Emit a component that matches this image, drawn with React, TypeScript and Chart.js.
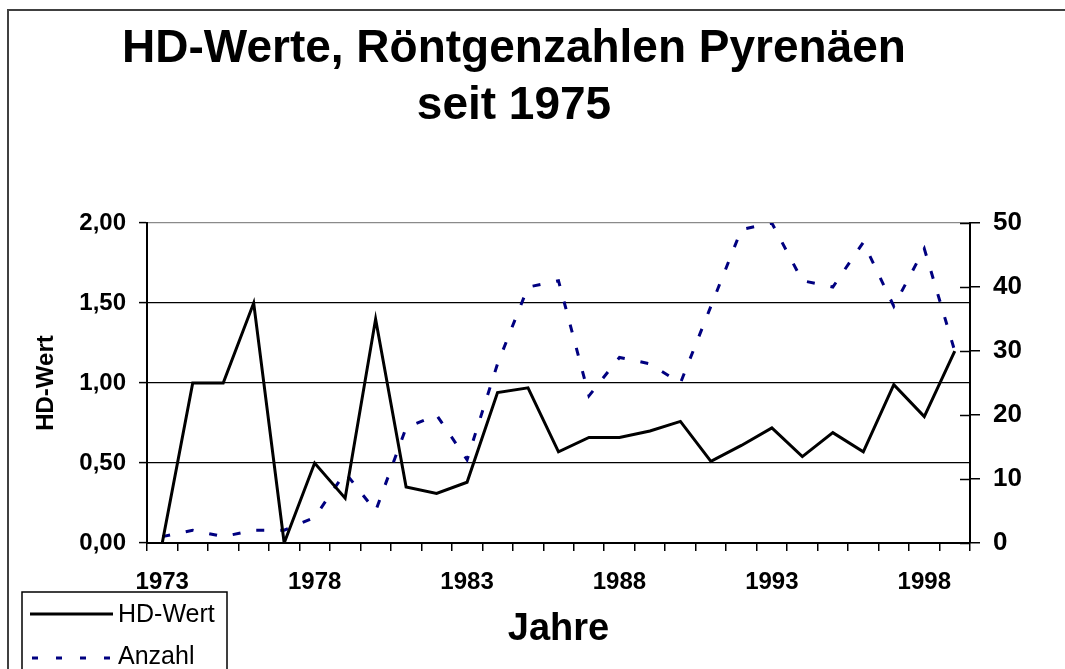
import { useEffect, useRef } from 'react';
import { Chart, registerables } from 'chart.js';

Chart.register(...registerables);

const FONT = '"Liberation Sans", Arial, Helvetica, sans-serif';

const titleLines = ['HD-Werte, Röntgenzahlen Pyrenäen', 'seit 1975'];
const years = [
  '1973', '1974', '1975', '1976', '1977', '1978', '1979', '1980', '1981',
  '1982', '1983', '1984', '1985', '1986', '1987', '1988', '1989', '1990',
  '1991', '1992', '1993', '1994', '1995', '1996', '1997', '1998', '1999',
];
const shownYears = ['1973', '1978', '1983', '1988', '1993', '1998'];
const hdWert = [
  0, 1.0, 1.0, 1.5, 0, 0.5, 0.28, 1.4, 0.35, 0.31, 0.38, 0.94, 0.97, 0.57,
  0.66, 0.66, 0.7, 0.76, 0.51, 0.61, 0.72, 0.54, 0.69, 0.57, 0.99, 0.79, 1.2,
];
const anzahl = [
  1, 2, 1, 2, 2, 4, 11, 5, 18, 20, 13, 28, 40, 41,
  23, 29, 28, 25, 37, 49, 50, 41, 40, 47, 37, 46, 30,
];
const leftTickLabels = ['0,00', '0,50', '1,00', '1,50', '2,00'];
const rightTickLabels = ['0', '10', '20', '30', '40', '50'];

const framePlugin = {
  id: 'excelFrame',
  beforeDraw(chart: any) {
    const { ctx, width, height } = chart;
    ctx.save();
    ctx.fillStyle = '#ffffff';
    ctx.fillRect(0, 0, width, height);
    ctx.strokeStyle = '#404040';
    ctx.lineWidth = 2;
    ctx.strokeRect(8, 10, width + 50, height + 50);
    ctx.restore();
  },
};

const innerTicksPlugin = {
  id: 'innerTicks',
  afterDatasetsDraw(chart: any) {
    const s = chart.scales.y2;
    const ctx = chart.ctx;
    ctx.save();
    ctx.strokeStyle = '#000';
    ctx.lineWidth = 1.5;
    s.ticks.forEach((t: any) => {
      const y = Math.round(s.getPixelForValue(t.value)) + 0.5;
      ctx.beginPath();
      ctx.moveTo(s.left - 10, y);
      ctx.lineTo(s.left, y);
      ctx.stroke();
    });
    ctx.restore();
  },
};

const boxLegendPlugin = {
  id: 'boxLegend',
  afterDraw(chart: any) {
    const ctx = chart.ctx;
    const x0 = 22;
    const y0 = 592;
    ctx.save();
    ctx.fillStyle = '#fff';
    ctx.fillRect(x0, y0, 205, 120);
    ctx.strokeStyle = '#000';
    ctx.lineWidth = 1.5;
    ctx.strokeRect(x0, y0, 205, 120);
    chart.data.datasets.forEach((ds: any, i: number) => {
      const y = 614 + i * 42;
      ctx.beginPath();
      ctx.strokeStyle = ds.borderColor;
      ctx.lineWidth = ds.borderWidth;
      ctx.setLineDash(ds.borderDash ? [6, 18] : []);
      ctx.lineDashOffset = ds.borderDash ? -2 : 0;
      ctx.moveTo(30, y + (i ? 2 : 0));
      ctx.lineTo(113, y + (i ? 2 : 0));
      ctx.stroke();
      ctx.setLineDash([]);
      ctx.fillStyle = '#000';
      ctx.font = `25px ${FONT}`;
      ctx.textBaseline = 'middle';
      ctx.textAlign = 'left';
      ctx.fillText(ds.label, 118, y + 1);
    });
    ctx.restore();
  },
};

export default function App() {
  const ref = useRef<HTMLCanvasElement | null>(null);

  useEffect(() => {
    if (!ref.current) return;
    Chart.defaults.font.family = FONT;
    const chart = new Chart(ref.current, {
      type: 'line',
      data: {
        labels: years,
        datasets: [
          {
            label: 'HD-Wert',
            data: hdWert,
            yAxisID: 'y',
            borderColor: '#000000',
            backgroundColor: '#000000',
            borderWidth: 3,
            pointRadius: 0,
            tension: 0,
            fill: false,
          },
          {
            label: 'Anzahl',
            data: anzahl,
            yAxisID: 'y2',
            borderColor: '#000080',
            backgroundColor: '#000080',
            borderWidth: 3,
            borderDash: [8, 16],
            pointRadius: 0,
            tension: 0,
            fill: false,
          },
        ],
      },
      options: {
        responsive: false,
        animation: false,
        layout: { padding: { left: 0, right: 37, top: 0, bottom: 0 } },
        plugins: {
          legend: { display: false },
          tooltip: { enabled: false },
          title: {
            display: true,
            text: titleLines,
            color: '#000',
            font: { size: 46, weight: 'bold', family: FONT, lineHeight: 1.24 },
            padding: { top: 21, bottom: 88 },
          },
        },
        scales: {
          x: {
            type: 'category',
            offset: true,
            grid: {
              offset: true,
              drawOnChartArea: false,
              tickLength: 8,
              color: '#000',
              lineWidth: 1.5,
            },
            border: { color: '#000', width: 2 },
            ticks: {
              autoSkip: false,
              maxRotation: 0,
              minRotation: 0,
              padding: 17,
              color: '#000',
              font: { size: 24, weight: 'bold' },
              callback: (_v: any, i: number) =>
                shownYears.includes(years[i]) ? years[i] : '',
            },
            title: {
              display: true,
              text: 'Jahre',
              color: '#000',
              font: { size: 38, weight: 'bold' },
              padding: { top: 0, bottom: 17 },
            },
            afterFit: (s: any) => {
              s.height = 126;
            },
          },
          y: {
            position: 'left',
            min: 0,
            max: 2,
            ticks: {
              stepSize: 0.5,
              padding: 13,
              color: '#000',
              font: { size: 24, weight: 'bold' },
              callback: (_v: any, i: number) => leftTickLabels[i],
            },
            grid: {
              color: (c: any) => (c.tick && c.tick.value === 2 ? '#8a8a8a' : '#000'),
              tickColor: '#000',
              tickLength: 8,
              lineWidth: 1.2,
              tickWidth: 1.5,
            },
            border: { color: '#000', width: 2 },
            title: {
              display: true,
              text: 'HD-Wert',
              color: '#000',
              font: { size: 24, weight: 'bold' },
              padding: { top: 32, bottom: 0 },
            },
            afterFit: (s: any) => {
              s.width = 147;
            },
          },
          y2: {
            position: 'right',
            min: 0,
            max: 50,
            ticks: {
              stepSize: 10,
              padding: 13,
              color: '#000',
              font: { size: 26, weight: 'bold' },
              callback: (_v: any, i: number) => rightTickLabels[i],
            },
            grid: {
              drawOnChartArea: false,
              tickLength: 10,
              color: '#000',
              lineWidth: 1.5,
            },
            border: { color: '#000', width: 2 },
            afterFit: (s: any) => {
              s.width = 58;
            },
          },
        },
      } as any,
      plugins: [framePlugin, innerTicksPlugin, boxLegendPlugin],
    });
    return () => chart.destroy();
  }, []);

  return (
    <div
      style={{
        position: 'fixed',
        left: 0,
        top: 0,
        width: 1065,
        height: 669,
        overflow: 'hidden',
        background: '#fff',
      }}
    >
      <canvas ref={ref} width={1065} height={669} style={{ display: 'block' }} />
    </div>
  );
}
